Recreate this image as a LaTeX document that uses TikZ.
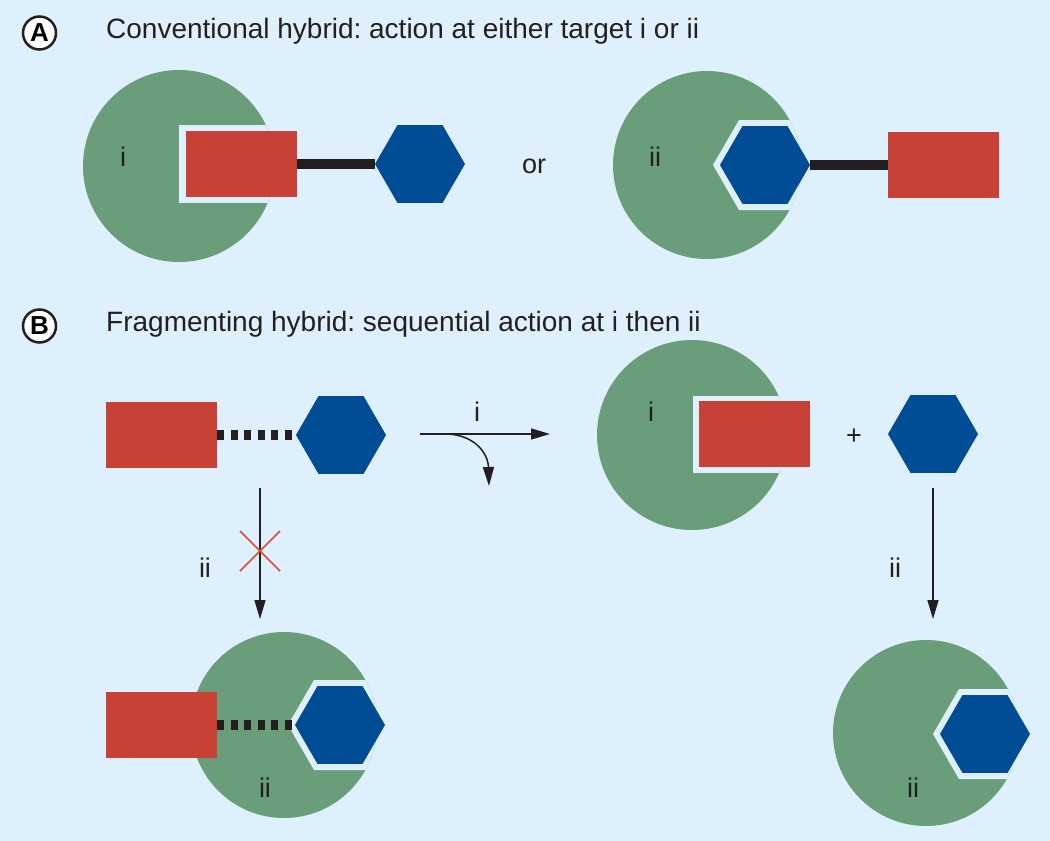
\documentclass[tikz,border=0pt]{standalone}
\usepackage{fontspec}
\setmainfont{Liberation Sans}
\usetikzlibrary{shapes.geometric,arrows.meta}
\definecolor{bg}{RGB}{222,240,252}
\definecolor{grn}{RGB}{106,158,122}
\definecolor{rd}{RGB}{200,65,55}
\definecolor{bl}{RGB}{0,77,150}
\definecolor{blk}{RGB}{35,31,32}
\definecolor{xred}{RGB}{222,70,55}
\frenchspacing
\begin{document}
\begin{tikzpicture}[x=1pt,y=-1pt,
  font=\fontsize{27}{30}\selectfont,
  redbox/.style={fill=rd, minimum width=111pt, minimum height=66pt, inner sep=0pt, outer sep=0pt},
  hexa/.style={regular polygon, regular polygon sides=6, fill=bl, minimum size=90pt, inner sep=0pt, outer sep=0pt},
  target/.style={fill=grn},
  pocket/.style={fill=bg},
  bar/.style={draw=blk, line width=10pt},
  dbar/.style={bar, dash pattern=on 7pt off 6.5pt},
  arr/.style={draw=blk, line width=1.5pt, -{Triangle[length=19pt,width=11pt]}},
  lbl/.style={inner sep=0pt, text=blk},
  letter/.style={circle, draw=blk, line width=2.5pt, fill=white, minimum size=33pt, inner sep=0pt, font=\fontsize{26}{26}\selectfont\bfseries},
  title/.style={inner sep=0pt, anchor=base west, text=blk, font=\fontsize{28}{30}\selectfont}]
\fill[bg] (0,0) rectangle (1050,841);
\useasboundingbox (0,0) rectangle (1050,841);

% ---------- headers
\node[letter] (la) at (39.5,33) {A};
\node[title] (ta) at (106,38) {Conventional hybrid: action at either target i or ii};
\node[letter] (lb) at (39.5,326) {B};
\node[title] (tb) at (106,331) {Fragmenting hybrid: sequential action at i then ii};

% ---------- centers
\coordinate (cA1) at (179,166);
\coordinate (cA2) at (707,165);
\coordinate (hA2c) at (765,165);
\coordinate (cB1) at (692,435);
\coordinate (cB2) at (284,725);
\coordinate (hB2c) at (340,725);
\coordinate (cB3) at (926,733);
\coordinate (hB3c) at (985,734);

% ---------- panel A, target i
\fill[target] (cA1) circle[radius=96];
\begin{scope}
  \clip (cA1) circle[radius=96];
  \fill[pocket] (179,125) rectangle (300,203);
\end{scope}
\node[redbox] (rA1) at (241.5,164) {};
\node[hexa] (hA1) at (420,164) {};
\draw[bar] (rA1.east) -- (hA1.west);
\node[lbl] (iA1) at (123,157) {i};

\node[lbl] (or) at (534,166) {or};

% ---------- panel A, target ii
\fill[target] (cA2) circle[radius=94];
\begin{scope}
  \clip (cA2) circle[radius=94];
  \fill[pocket, shift={(hA2c)}] (-52,0) -- (-26,-45) -- (80,-45) -- (80,45) -- (-26,45) -- cycle;
\end{scope}
\node[hexa] (hA2) at (hA2c) {};
\node[redbox] (rA2) at (943.5,165) {};
\draw[bar] (hA2.east) -- (rA2.west);
\node[lbl] (iiA2) at (655,157) {ii};

% ---------- panel B, hybrid
\node[redbox] (rB0) at (161.5,435) {};
\node[hexa] (hB0) at (341,435) {};
\draw[dbar] (rB0.east) -- (hB0.west);

% arrow i
\coordinate (ai0) at (420,434);
\coordinate (ai1) at (550,434);
\coordinate (ac0) at (445,434);
\coordinate (ac1) at (489,486);
\draw[arr] (ai0) -- (ai1);
\draw[arr] (ac0) .. controls (473,434) and (488,452) .. (ac1);
\node[lbl] (li) at (477,412) {i};

% target i with rectangle
\fill[target] (cB1) circle[radius=95];
\begin{scope}
  \clip (cB1) circle[radius=95];
  \fill[pocket] (693,396) rectangle (800,473);
\end{scope}
\node[redbox] (rB1) at (754.5,434) {};
\node[lbl] (iB1) at (651,412) {i};
\node[lbl] (plus) at (854,437) {+};
\node[hexa] (hB1) at (933,434) {};

% blocked arrow ii
\coordinate (aL0) at (260,488);
\coordinate (aL1) at (260,619);
\draw[arr] (aL0) -- (aL1);
\coordinate (x1) at (240,531);
\coordinate (x2) at (280,571);
\coordinate (x3) at (240,571);
\coordinate (x4) at (280,531);
\draw[xred, line width=1.5pt] (x1) -- (x2) (x3) -- (x4);
\node[lbl] (iiL) at (205,568) {ii};

% arrow ii right
\coordinate (aR0) at (933,488);
\coordinate (aR1) at (933,619);
\draw[arr] (aR0) -- (aR1);
\node[lbl] (iiR) at (895,568) {ii};

% bottom left: hybrid bound at ii
\fill[target] (cB2) circle[radius=93];
\begin{scope}
  \clip (cB2) circle[radius=93];
  \fill[pocket, shift={(hB2c)}] (-52,0) -- (-26,-45) -- (80,-45) -- (80,45) -- (-26,45) -- cycle;
\end{scope}
\node[hexa] (hB2) at (hB2c) {};
\node[redbox] (rB2) at (161.5,725) {};
\draw[dbar] (rB2.east) -- (hB2.west);
\node[lbl] (iiB2) at (265,788) {ii};

% bottom right: fragment bound at ii
\fill[target] (cB3) circle[radius=93];
\begin{scope}
  \clip (cB3) circle[radius=93];
  \fill[pocket, shift={(hB3c)}] (-52,0) -- (-26,-45) -- (80,-45) -- (80,45) -- (-26,45) -- cycle;
\end{scope}
\node[hexa] (hB3) at (hB3c) {};
\node[lbl] (iiB3) at (913,788) {ii};
\end{tikzpicture}
\end{document}
